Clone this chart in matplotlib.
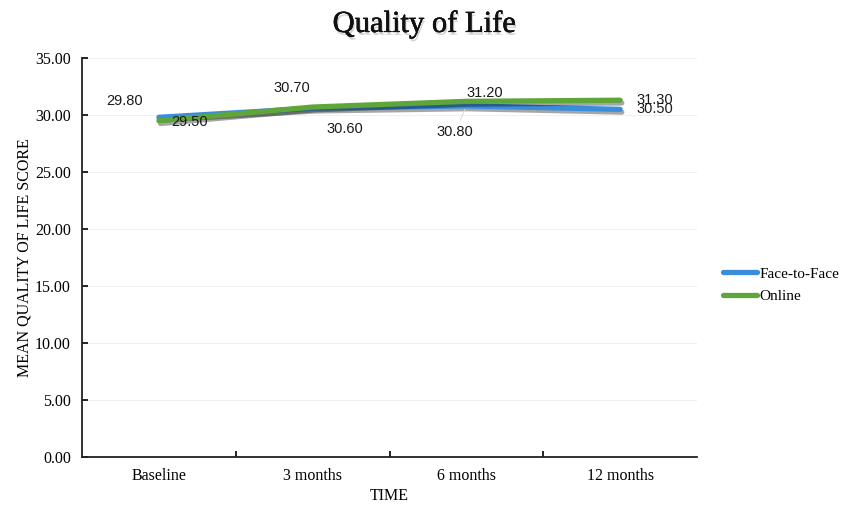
import matplotlib
matplotlib.use("Agg")
import matplotlib.pyplot as plt
import matplotlib.patheffects as pe
from matplotlib.lines import Line2D
import numpy as np

# Mean quality of life score by time point
time_points = ["Baseline", "3 months", "6 months", "12 months"]
face_to_face = [29.80, 30.60, 30.80, 30.50]
online = [29.50, 30.70, 31.20, 31.30]
y_ticks = [0, 5, 10, 15, 20, 25, 30, 35]

# label offsets (points) for each series, per time point
f2f_offsets = [(-25, 12), (23, -15), (-8, -19), (25, 0)]
online_offsets = [(22, -1), (-15, 14), (13, 6), (25, 0)]

serif = "Liberation Serif"
sans = "Liberation Sans"
blue = "#3a8ddb"
green = "#5ea53a"

fig = plt.figure(figsize=(8.43, 5.09), dpi=100)
ax = fig.add_axes([0.0973, 0.102, 0.7295, 0.784])

x = np.arange(len(time_points))
shadow = [pe.SimpleLineShadow(offset=(1.2, -2.0), shadow_color="k", alpha=0.35),
          pe.Normal()]

ax.plot(x, face_to_face, color=blue, lw=3.8, solid_capstyle="round",
        path_effects=shadow, zorder=3)
ax.plot(x, online, color=green, lw=3.8, solid_capstyle="round",
        path_effects=shadow, zorder=4)

for i, v in enumerate(face_to_face):
    arrow = None
    if i == 2:
        arrow = dict(arrowstyle="-", color="#dddddd", lw=0.8, shrinkA=2, shrinkB=3)
    ax.annotate(f"{v:.2f}", (x[i], v), xytext=f2f_offsets[i], textcoords="offset points",
                ha="center", va="center", fontsize=10.5, family=sans, color="#1a1a1a",
                arrowprops=arrow, zorder=5)
for i, v in enumerate(online):
    ax.annotate(f"{v:.2f}", (x[i], v), xytext=online_offsets[i], textcoords="offset points",
                ha="center", va="center", fontsize=10.5, family=sans, color="#1a1a1a",
                zorder=5)

ax.set_xlim(-0.5, len(time_points) - 0.5)
ax.set_ylim(0, 35)
ax.set_yticks(y_ticks)
ax.set_yticklabels([f"{t:.2f}" for t in y_ticks], family=serif, fontsize=11.5)
ax.set_xticks(x)
ax.set_xticklabels(time_points, family=serif, fontsize=11.5)
ax.set_xticks(x[:-1] + 0.5, minor=True)
ax.tick_params(axis="x", which="major", length=0, pad=8)
ax.tick_params(axis="x", which="minor", direction="in", length=4, width=1.2)
ax.tick_params(axis="y", direction="in", length=4, width=1.2, pad=8)

ax.grid(axis="y", color="#f0f0f0", lw=0.8)
ax.set_axisbelow(True)
for side in ["top", "right"]:
    ax.spines[side].set_visible(False)
for side in ["left", "bottom"]:
    ax.spines[side].set_linewidth(1.3)
    ax.spines[side].set_color("#222222")

ax.set_xlabel("TIME", family=serif, fontsize=11.5, labelpad=3)
ax.set_ylabel("MEAN QUALITY OF LIFE SCORE", family=serif, fontsize=11.5, labelpad=2)

fig.text(0.503, 0.952, "Quality of Life", ha="center", va="center", family=serif,
         fontsize=22, color="#111111",
         path_effects=[pe.withSimplePatchShadow(offset=(1.0, -2.0), shadow_rgbFace="k", alpha=0.18),
                       pe.Stroke(linewidth=0.3, foreground="#111111"), pe.Normal()])

handles = [Line2D([], [], color=blue, lw=3.8, solid_capstyle="round"),
           Line2D([], [], color=green, lw=3.8, solid_capstyle="round")]
fig.legend(handles, ["Face-to-Face", "Online"], loc="center left",
           bbox_to_anchor=(0.858, 0.44), frameon=False, borderaxespad=0, borderpad=0,
           prop={"family": serif, "size": 11}, handlelength=2.2,
           handletextpad=0.15, labelspacing=0.55)

fig.savefig("out.png", dpi=100)
